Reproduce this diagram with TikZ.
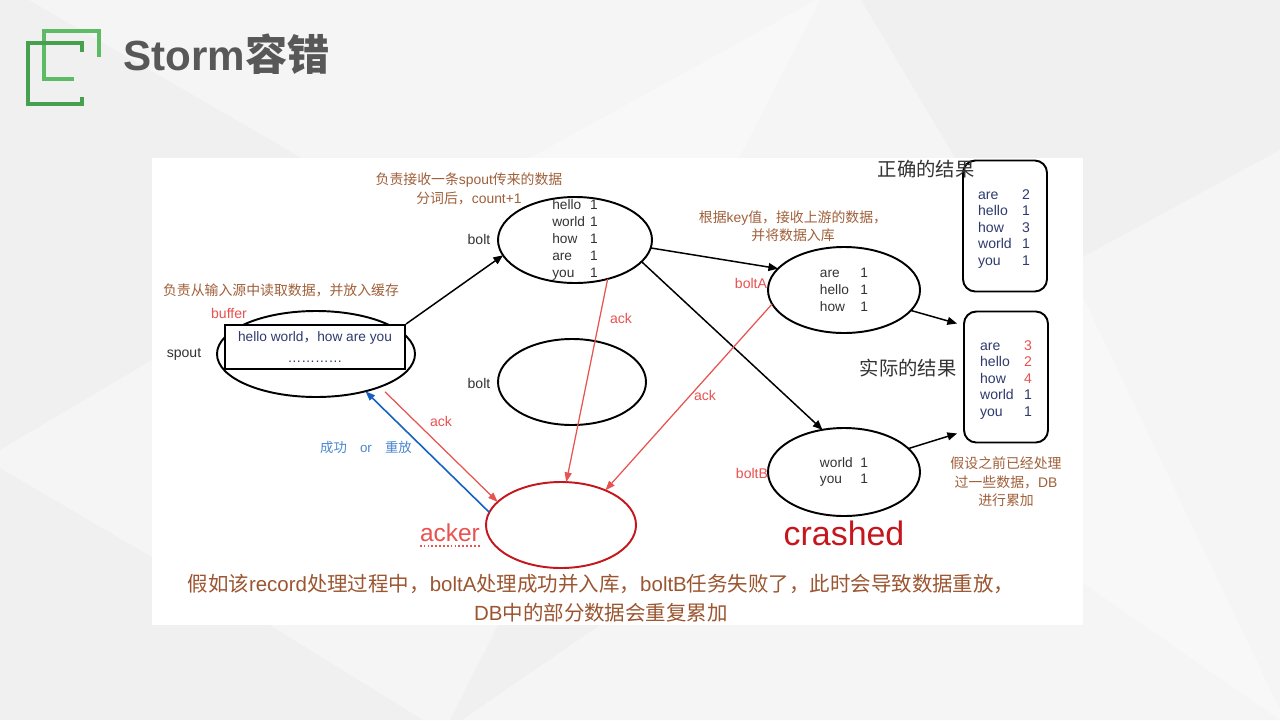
\documentclass[tikz,border=0pt]{standalone}
\usepackage{fontspec}
\setmainfont{Liberation Sans}
\newfontfamily\cjk{Noto Sans CJK SC}
\newcommand\zh[1]{{\cjk #1}}
\usetikzlibrary{arrows.meta,shapes.geometric}
\definecolor{bg}{HTML}{F0F0F0}
\definecolor{bgmid}{HTML}{F5F5F5}
\definecolor{bglight}{HTML}{F8F8F8}
\definecolor{brownt}{HTML}{A0603A}
\definecolor{brownb}{HTML}{9B5530}
\definecolor{navyt}{HTML}{2E3A6E}
\definecolor{redl}{HTML}{E8524F}
\definecolor{redd}{HTML}{C4161C}
\definecolor{bluea}{HTML}{1560C0}
\definecolor{bluet}{HTML}{4A86D0}
\definecolor{grayt}{HTML}{333333}
\definecolor{titlec}{HTML}{585858}
\definecolor{gdark}{HTML}{47A04F}
\definecolor{glight}{HTML}{5DBB66}
\begin{document}
\begin{tikzpicture}[x=0.02cm,y=-0.02cm,
  ell/.style={ellipse,draw=black,line width=1.1pt,inner sep=0pt,outer sep=0pt},
  resbox/.style={draw=black,line width=1.1pt,rounded corners=7pt,inner sep=0pt,minimum width=84*0.02cm,minimum height=131*0.02cm},
  note/.style={font=\fontsize{7.9}{10.5}\selectfont,text=brownt,align=center,inner sep=0pt},
  lbl/.style={font=\fontsize{8}{9}\selectfont,text=grayt,inner sep=0pt},
  redlbl/.style={font=\fontsize{8}{9}\selectfont,text=redl,inner sep=0pt},
  blk/.style={-{Triangle[length=5.5pt,width=4.5pt]},line width=0.85pt,black},
  redarr/.style={-{Triangle[length=5.5pt,width=4pt]},line width=0.7pt,redl},
  bluearr/.style={-{Triangle[length=5.5pt,width=4pt]},line width=0.9pt,bluea},
  inside/.style={font=\fontsize{7.8}{9.6}\selectfont,text=grayt,align=left,inner sep=0pt},
  res/.style={font=\fontsize{8}{9.4}\selectfont,text=navyt,align=left,inner sep=0pt}
]
\useasboundingbox (0,0) rectangle (1280,720);
% background
\fill[bg] (0,0) rectangle (1280,720);
\fill[bgmid] (29,0) -- (861,0) -- (955,158) -- (302,158) -- cycle;
\fill[bglight] (816,0) -- (820,0) -- (739,158) -- (530,158) -- cycle;
\fill[bgmid] (1280,150) -- (1083,257) -- (1083,720) -- (1280,720) -- cycle;
\fill[bglight] (1083,297) -- (1280,710) -- (1280,720) -- (1083,583) -- cycle;
\fill[bgmid] (0,450) -- (152,360) -- (152,557) -- (0,468) -- cycle;
\fill[bgmid] (270,625) -- (498,625) -- (450,720) -- (423,720) -- cycle;
\fill[bgmid] (600,625) -- (1083,625) -- (1083,720) -- (462,720) -- cycle;
% logo
\draw[glight,line width=2.6pt] (99,57) -- (99,31) -- (44,31) -- (44,79) -- (74,79);
\draw[gdark,line width=2.6pt] (82,52) -- (82,43) -- (28,43) -- (28,104) -- (82,104) -- (82,97);
\node[anchor=base west,inner sep=0pt,font=\bfseries\fontsize{24}{28}\selectfont,text=titlec] (title) at (123,70) {Storm{\cjk\bfseries 容错}};
% panel
\fill[white] (152,158) rectangle (1083,625);

% notes
\node[note] (n1) at (469,189) {\zh{负责接收一条}spout\zh{传来的数据}\\\zh{分词后，}count+1};
\node[note] (n2) at (281,290) {\zh{负责从输入源中读取数据，并放入缓存}};
\node[note] (n3) at (793,226) {\zh{根据}key\zh{值，接收上游的数据，}\\\zh{并将数据入库}};
\node[note] (n4) at (1006,482) {\zh{假设之前已经处理}\\\zh{过一些数据，}DB\\\zh{进行累加}};

% spout
\node[ell,minimum width=198*0.02cm,minimum height=86*0.02cm] (spout) at (316,354) {};
\node[draw=black,fill=white,line width=1.1pt,minimum width=180*0.02cm,minimum height=44*0.02cm,inner sep=0pt,align=center,text=navyt,font=\fontsize{7.8}{12.5}\selectfont] (buf) at (315,347) {hello world\zh{，}how are you\\[-1pt]…………};
\node[lbl] (spoutl) at (184,354) {spout};
\node[redlbl] (bufl) at (229,313) {buffer};

% bolts
\node[ell,minimum width=154*0.02cm,minimum height=86*0.02cm] (bolt1) at (575,240) {};
\node[inside] (bolt1t) at (bolt1.center)
  {\makebox[21.5pt][l]{hello}1\\\makebox[21.5pt][l]{world}1\\\makebox[21.5pt][l]{how}1\\\makebox[21.5pt][l]{are}1\\\makebox[21.5pt][l]{you}1};
\node[lbl] (bolt1l) at (479,239) {bolt};
\node[ell,minimum width=148*0.02cm,minimum height=86*0.02cm] (bolt2) at (572,382) {};
\node[lbl] (bolt2l) at (479,383) {bolt};

\node[ell,minimum width=152*0.02cm,minimum height=86*0.02cm] (boltA) at (844,290) {};
\node[inside] (boltAt) at (boltA.center)
  {\makebox[23pt][l]{are}1\\\makebox[23pt][l]{hello}1\\\makebox[23pt][l]{how}1};
\node[redlbl] (boltAl) at (751,283) {boltA};
\node[ell,minimum width=152*0.02cm,minimum height=88*0.02cm] (boltB) at (844,472) {};
\node[inside] (boltBt) at (boltB.center)
  {\makebox[23pt][l]{world}1\\\makebox[23pt][l]{you}1};
\node[redlbl] (boltBl) at (752,473) {boltB};
\node[inner sep=0pt,text=redd,font=\fontsize{19.3}{22}\selectfont] (crashed) at (844,533) {crashed};

% acker
\node[ellipse,draw=redd,line width=1.1pt,inner sep=0pt,outer sep=0pt,minimum width=150*0.02cm,minimum height=86*0.02cm] (acker) at (561,525) {};
\node[inner sep=0pt,text=redl,font=\fontsize{13.9}{16}\selectfont] (ackerl) at (450,533) {acker};
\draw[redl,line width=1pt,dash pattern=on 1pt off 1.2pt] ([yshift=-2.5pt]ackerl.base west) -- ([yshift=-2.5pt]ackerl.base east);

% result boxes
\node[resbox] (correct) at (1005,226) {};
\node[res] (correctt) at (1004,229)
  {\makebox[25pt][l]{are}2\\\makebox[25pt][l]{hello}1\\\makebox[25pt][l]{how}3\\\makebox[25pt][l]{world}1\\\makebox[25pt][l]{you}1};
\node[inner sep=0pt,font=\cjk\fontsize{11}{13}\selectfont,text=grayt] (correctl) at (926,169) {正确的结果};
\node[resbox] (actual) at (1006,377) {};
\node[res] (actualt) at (1006,380)
  {\makebox[25pt][l]{are}\textcolor{redl}{3}\\\makebox[25pt][l]{hello}\textcolor{redl}{2}\\\makebox[25pt][l]{how}\textcolor{redl}{4}\\\makebox[25pt][l]{world}1\\\makebox[25pt][l]{you}1};
\node[inner sep=0pt,font=\cjk\fontsize{11}{13}\selectfont,text=grayt] (actuall) at (908,368) {实际的结果};

% black arrows
\draw[blk] (buf.north east) -- (bolt1.192);
\draw[blk] (bolt1.354) -- (boltA.162);
\draw[blk] (bolt1.342) -- (boltB.117);
\draw[blk] (boltA.343) -- ([xshift=-0.12cm,yshift=-0.26cm]actual.north west);
\draw[blk] (boltB.20) -- ([xshift=-0.12cm,yshift=0.2cm]actual.south west);

% red ack arrows
\draw[redarr] (bolt1.310) -- (acker.83);
\draw[redarr] (boltA.191) -- (acker.38);
\draw[redarr] ([shift={(0.16cm,-0.08cm)}]spout.331) -- (acker.160);
\node[redlbl] (ack1) at (621,318) {ack};
\node[redlbl] (ack2) at (705,395) {ack};
\node[redlbl] (ack3) at (441,421) {ack};

% blue arrow
\draw[bluearr] (acker.170) -- (spout.323);
\node[inner sep=0pt,text=bluet,font=\fontsize{7.6}{9}\selectfont] (bluel) at (366,447) {\zh{成功}\hspace{7.5pt}or\hspace{7.5pt}\zh{重放}};

% bottom text
\node[align=center,inner sep=0pt,font=\fontsize{11.65}{16.5}\selectfont,text=brownb] (bottom) at (601,598)
 {\zh{假如该}record\zh{处理过程中，}boltA\zh{处理成功并入库，}boltB\zh{任务失败了，此时会导致数据重放，}\\DB\zh{中的部分数据会重复累加}};
\end{tikzpicture}
\end{document}
